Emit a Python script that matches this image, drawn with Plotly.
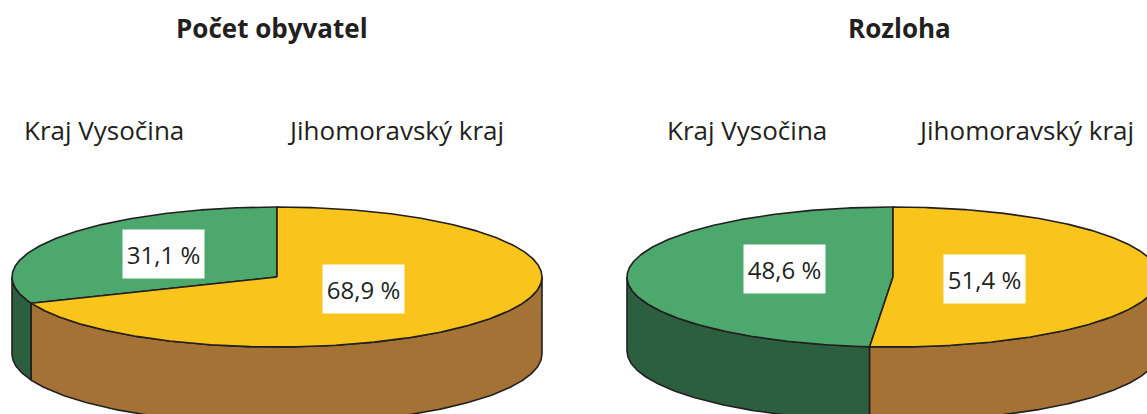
import numpy as np
import plotly.graph_objects as go

# ---- data ----
categories = ["Kraj Vysočina", "Jihomoravský kraj"]
population_pct = [31.1, 68.9]
area_pct = [48.6, 51.4]
chart_titles = ["Počet obyvatel", "Rozloha"]

# ---- styles / geometry (pixel space) ----
W, H = 1147, 414
TOP_COLORS = ["#4DA86E", "#F9C51C"]
SIDE_COLORS = ["#2C5E40", "#A57235"]
EDGE = "#231F20"
FONT = "Open Sans"
PIES = [
    dict(cx=277, cy=277, rx=265, ry=70, depth=77, title_x=272, label_x=[104, 395],
         box_pos=[(163.5, 254), (363.5, 288.5)]),
    dict(cx=893, cy=277, rx=266, ry=70, depth=74, title_x=899, label_x=[747, 1025],
         box_pos=[(784.5, 268.5), (984.5, 278.5)]),
]
datasets = [population_pct, area_pct]

fig = go.Figure()


def ell(g, th, dy=0.0):
    t = np.radians(th)
    return g["cx"] + g["rx"] * np.cos(t), g["cy"] - g["ry"] * np.sin(t) + dy


annotations = []
for g, vals, title in zip(PIES, datasets, chart_titles):
    total = sum(vals)
    starts, ends = [], []
    a = 90.0
    for v in vals:
        starts.append(a)
        a += 360.0 * v / total
        ends.append(a)
    # sides (visible front half: 180..360 degrees)
    for i in range(len(vals)):
        lo, hi = max(starts[i], 180.0), min(ends[i], 360.0)
        if hi > lo:
            th = np.linspace(lo, hi, 200)
            xt, yt = ell(g, th)
            xb, yb = ell(g, th[::-1], g["depth"])
            xs = np.concatenate([xt, xb, xt[:1]])
            ys = np.concatenate([yt, yb, yt[:1]])
            fig.add_trace(go.Scatter(x=xs, y=ys, mode="lines", fill="toself",
                                     fillcolor=SIDE_COLORS[i],
                                     line=dict(color=EDGE, width=1.6),
                                     hoverinfo="skip", showlegend=False))
    # top faces
    for i in range(len(vals)):
        th = np.linspace(starts[i], ends[i], 400)
        xa, ya = ell(g, th)
        xs = np.concatenate([[g["cx"]], xa, [g["cx"]]])
        ys = np.concatenate([[g["cy"]], ya, [g["cy"]]])
        fig.add_trace(go.Scatter(x=xs, y=ys, mode="lines", fill="toself",
                                 fillcolor=TOP_COLORS[i],
                                 line=dict(color=EDGE, width=1.6),
                                 hoverinfo="skip", showlegend=False))
    # title
    annotations.append(dict(x=g["title_x"], y=28, text="<b>%s</b>" % title, showarrow=False,
                            xref="x", yref="y", font=dict(family=FONT, size=26, color=EDGE)))
    # category labels
    for lx, cat in zip(g["label_x"], categories):
        annotations.append(dict(x=lx, y=130, text=cat, showarrow=False, xref="x", yref="y",
                                font=dict(family=FONT, size=26, color=EDGE)))
    # value boxes
    for (bx, by), v in zip(g["box_pos"], vals):
        txt = ("%.1f" % v).replace(".", ",") + " %"
        annotations.append(dict(x=bx, y=by, text=txt, showarrow=False, xref="x", yref="y",
                                bgcolor="white", width=81, height=48, borderpad=0,
                                font=dict(family=FONT, size=24, color=EDGE)))

fig.update_layout(
    width=W, height=H, margin=dict(l=0, r=0, t=0, b=0),
    paper_bgcolor="white", plot_bgcolor="white",
    xaxis=dict(range=[0, W], visible=False, fixedrange=True),
    yaxis=dict(range=[H, 0], visible=False, fixedrange=True),
    annotations=annotations,
)

fig.write_html("out.html", config={"displayModeBar": False},
               post_script="document.body.style.margin='0';document.body.style.overflow='hidden';")
